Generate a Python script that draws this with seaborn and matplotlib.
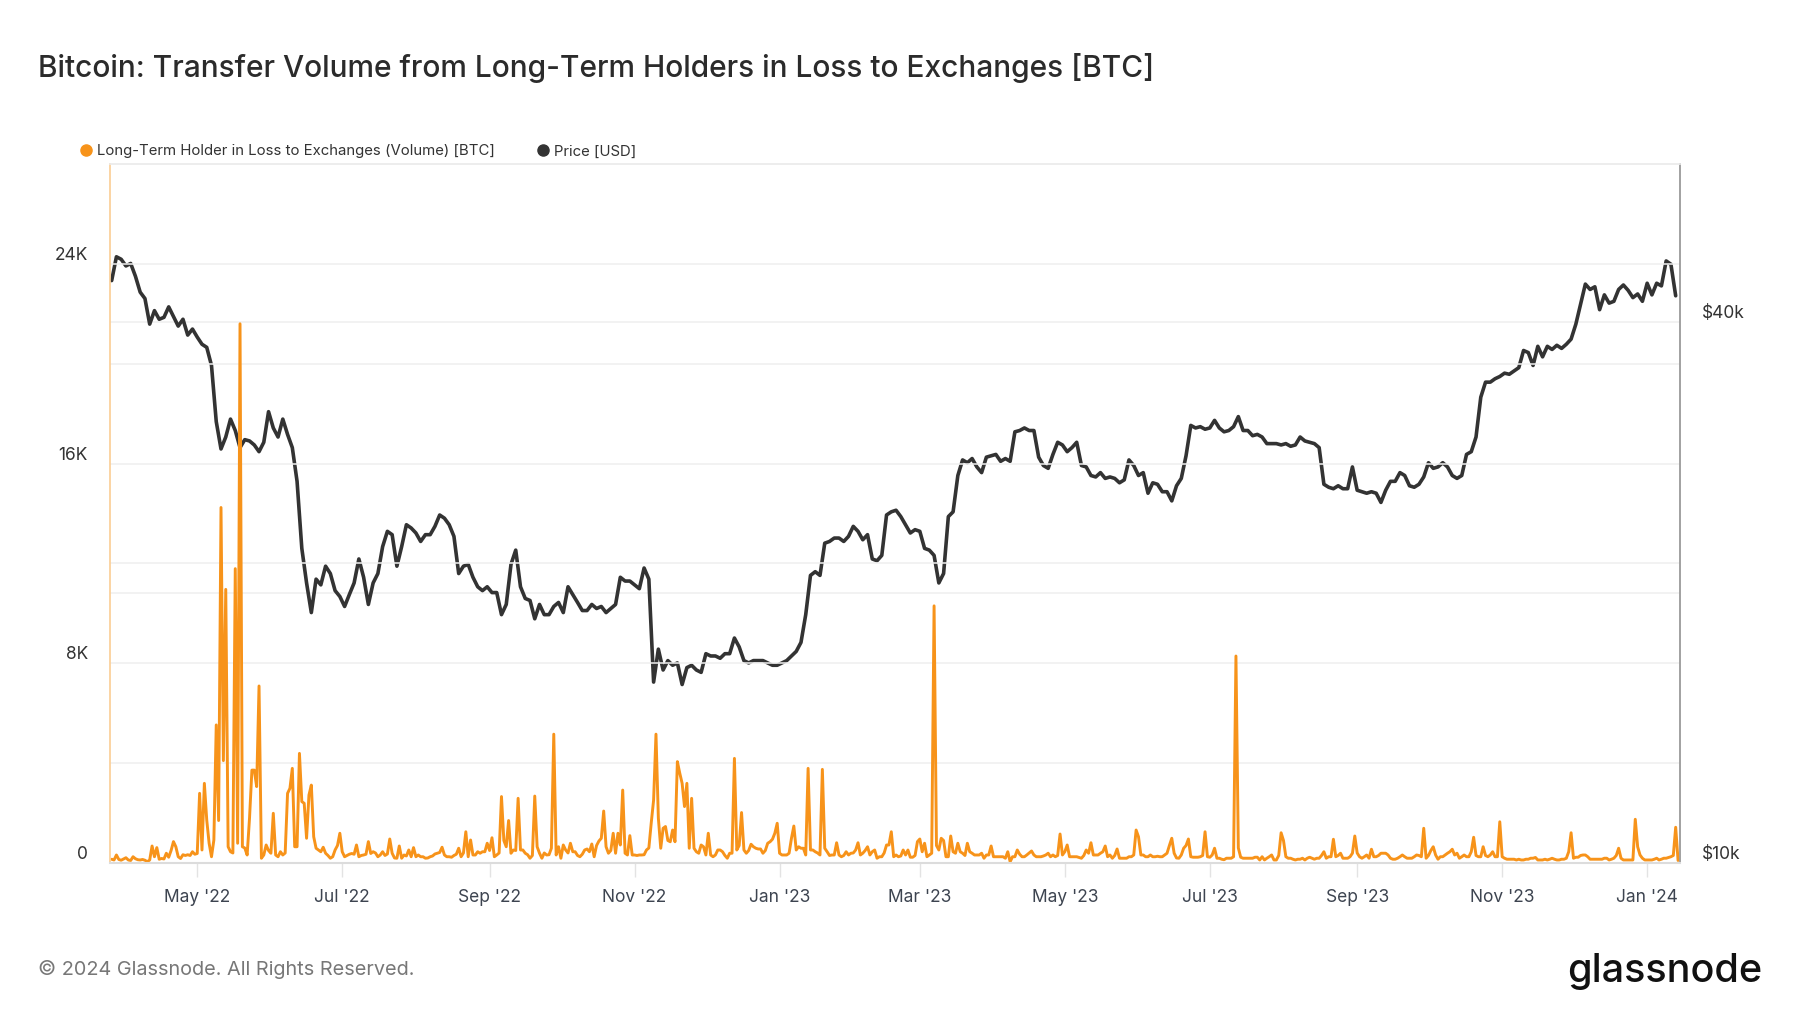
import numpy as np
import pandas as pd
import matplotlib
matplotlib.use("Agg")
import matplotlib.pyplot as plt
import matplotlib.dates as mdates
import matplotlib.ticker as mticker
from matplotlib.lines import Line2D
import seaborn as sns

sns.set_theme(style="white")
plt.rcParams['font.family'] = ['Inter', 'DejaVu Sans']

# daily transfer volume, LTH in loss -> exchanges [BTC], starting 2022-03-26
lth_loss_volume = [
    150, 120, 320, 140, 110, 160, 210, 120, 100, 250,
    170, 130, 120, 140, 110, 50, 120, 680, 250, 615,
    150, 180, 160, 390, 230, 500, 855, 650, 250, 180,
    330, 300, 330, 300, 450, 350, 380, 2790, 520, 3190,
    1720, 790, 250, 920, 5530, 1700, 14240, 4100, 10960, 650,
    450, 400, 11790, 790, 21600, 650, 600, 320, 1800, 3720,
    3720, 3060, 7090, 190, 320, 720, 500, 390, 1990, 320,
    250, 450, 320, 400, 2790, 2990, 3790, 650, 650, 4390,
    2460, 2390, 990, 2720, 3120, 1050, 590, 520, 450, 630,
    390, 300, 190, 250, 520, 700, 1190, 450, 250, 300,
    350, 380, 350, 720, 250, 300, 320, 350, 855, 380,
    450, 400, 250, 320, 450, 300, 360, 960, 390, 200,
    190, 680, 190, 320, 280, 520, 250, 615, 250, 320,
    250, 250, 190, 200, 250, 280, 360, 390, 420, 630,
    320, 250, 250, 230, 300, 350, 590, 250, 400, 1250,
    250, 920, 320, 320, 450, 390, 450, 450, 790, 500,
    1010, 250, 320, 400, 2660, 900, 650, 1700, 390, 520,
    500, 2590, 520, 520, 390, 330, 190, 300, 2680, 650,
    390, 190, 400, 320, 330, 590, 5160, 320, 650, 190,
    720, 520, 400, 790, 450, 450, 300, 250, 350, 520,
    560, 450, 760, 250, 700, 880, 990, 2080, 650, 390,
    500, 1190, 390, 1190, 720, 2920, 390, 320, 1095, 320,
    320, 300, 320, 320, 330, 520, 600, 1600, 2520, 5160,
    1800, 590, 1390, 1460, 900, 850, 1320, 850, 4060, 3600,
    3190, 2260, 3190, 590, 2590, 590, 450, 390, 720, 650,
    320, 1190, 320, 250, 320, 520, 520, 450, 300, 190,
    390, 390, 4190, 520, 700, 2020, 520, 390, 500, 750,
    650, 590, 560, 560, 390, 500, 790, 850, 950, 1190,
    1590, 390, 320, 320, 320, 390, 990, 1480, 520, 650,
    590, 590, 320, 3790, 520, 520, 450, 400, 320, 3750,
    590, 450, 300, 320, 320, 810, 320, 250, 300, 450,
    320, 390, 400, 520, 810, 320, 390, 500, 650, 320,
    450, 520, 190, 250, 250, 400, 720, 720, 1250, 250,
    320, 250, 280, 520, 320, 520, 230, 230, 300, 855,
    960, 450, 790, 250, 320, 390, 10300, 700, 520, 990,
    900, 250, 250, 1080, 450, 390, 790, 450, 390, 300,
    790, 450, 390, 320, 320, 320, 390, 190, 320, 320,
    680, 250, 250, 250, 250, 250, 190, 450, 50, 250,
    250, 520, 350, 250, 250, 320, 400, 480, 320, 250,
    250, 250, 280, 320, 390, 250, 320, 250, 300, 1160,
    320, 450, 720, 250, 250, 250, 250, 220, 190, 300,
    520, 390, 810, 320, 320, 320, 390, 450, 680, 250,
    320, 190, 300, 560, 190, 190, 190, 190, 250, 250,
    320, 1320, 1050, 320, 320, 250, 250, 320, 250, 250,
    270, 250, 250, 320, 390, 700, 990, 390, 200, 190,
    320, 590, 700, 960, 250, 230, 230, 230, 250, 300,
    1250, 250, 230, 320, 590, 190, 190, 150, 130, 190,
    190, 190, 250, 8290, 600, 230, 190, 190, 190, 190,
    190, 230, 230, 120, 250, 120, 190, 250, 320, 120,
    120, 300, 1210, 900, 250, 190, 190, 150, 120, 150,
    150, 190, 120, 190, 230, 190, 150, 190, 190, 300,
    450, 190, 250, 250, 950, 250, 300, 390, 190, 190,
    190, 250, 390, 1080, 400, 250, 190, 250, 320, 190,
    550, 250, 250, 300, 390, 390, 390, 320, 190, 150,
    150, 190, 250, 320, 250, 190, 190, 190, 250, 320,
    300, 250, 1390, 190, 300, 500, 650, 320, 150, 250,
    250, 320, 390, 450, 550, 320, 390, 190, 250, 320,
    250, 250, 450, 1030, 300, 250, 250, 650, 300, 250,
    320, 450, 250, 250, 1650, 250, 190, 150, 150, 150,
    150, 120, 150, 120, 120, 150, 150, 190, 190, 220,
    120, 120, 120, 150, 120, 150, 190, 150, 120, 120,
    150, 150, 190, 450, 1210, 190, 230, 230, 300, 320,
    320, 250, 150, 150, 150, 150, 150, 150, 190, 190,
    120, 150, 190, 300, 590, 190, 120, 120, 120, 120,
    120, 1750, 650, 320, 190, 120, 120, 120, 120, 150,
    190, 120, 150, 190, 190, 220, 250, 300, 1430, 100,
]

# BTC price in $k, every second day starting 2022-03-26
price_k = [
    44.5, 47.3, 47.0, 46.2, 46.5, 45.0, 43.2, 42.5, 39.8, 41.2,
    40.3, 40.5, 41.6, 40.6, 39.6, 40.3, 38.7, 39.3, 38.5, 37.8,
    37.5, 35.8, 31.0, 28.9, 29.8, 31.2, 30.3, 29.0, 29.6, 29.5,
    29.2, 28.7, 29.4, 31.8, 30.5, 29.8, 31.2, 30.0, 29.0, 26.6,
    22.4, 20.5, 19.0, 20.7, 20.4, 21.4, 21.0, 20.1, 19.8, 19.3,
    19.9, 20.5, 21.8, 20.8, 19.4, 20.5, 21.0, 22.5, 23.4, 23.2,
    21.4, 22.5, 23.8, 23.6, 23.3, 22.8, 23.2, 23.2, 23.7, 24.4,
    24.2, 23.8, 23.1, 21.0, 21.4, 21.5, 20.8, 20.3, 20.1, 20.3,
    20.0, 20.0, 18.9, 19.4, 21.5, 22.3, 20.3, 19.7, 19.6, 18.7,
    19.4, 18.9, 18.9, 19.3, 19.5, 19.0, 20.3, 19.9, 19.5, 19.1,
    19.1, 19.4, 19.2, 19.3, 19.0, 19.2, 19.4, 20.8, 20.6, 20.6,
    20.4, 20.2, 21.3, 20.7, 15.9, 17.3, 16.4, 16.8, 16.6, 16.7,
    15.8, 16.5, 16.6, 16.4, 16.3, 17.1, 17.0, 17.0, 16.9, 17.1,
    17.1, 17.8, 17.4, 16.8, 16.7, 16.8, 16.8, 16.8, 16.7, 16.6,
    16.6, 16.7, 16.8, 17.0, 17.2, 17.6, 18.9, 20.9, 21.1, 20.9,
    22.7, 22.8, 23.0, 23.0, 22.8, 23.1, 23.7, 23.4, 22.9, 23.2,
    21.8, 21.7, 22.0, 24.4, 24.6, 24.7, 24.3, 23.8, 23.3, 23.5,
    23.4, 22.4, 22.3, 22.0, 20.5, 21.0, 24.3, 24.6, 27.0, 28.1,
    27.9, 28.2, 27.6, 27.2, 28.3, 28.4, 28.5, 28.0, 28.2, 28.0,
    30.2, 30.3, 30.5, 30.3, 30.3, 28.3, 27.7, 27.5, 28.5, 29.4,
    29.2, 28.7, 29.0, 29.4, 27.7, 27.6, 27.0, 26.9, 27.2, 26.8,
    26.9, 26.8, 26.5, 26.7, 28.1, 27.7, 27.0, 27.2, 25.8, 26.5,
    26.4, 25.9, 25.9, 25.3, 26.3, 26.8, 28.4, 30.7, 30.5, 30.6,
    30.4, 30.5, 31.1, 30.5, 30.2, 30.3, 30.6, 31.4, 30.3, 30.3,
    29.9, 30.0, 29.8, 29.3, 29.3, 29.3, 29.2, 29.3, 29.1, 29.2,
    29.8, 29.5, 29.4, 29.3, 29.0, 26.4, 26.2, 26.1, 26.3, 26.1,
    26.1, 27.6, 26.0, 25.9, 25.8, 25.9, 25.8, 25.2, 26.0, 26.6,
    26.6, 27.2, 27.0, 26.3, 26.2, 26.4, 26.9, 27.9, 27.5, 27.6,
    27.9, 27.6, 27.0, 26.8, 27.0, 28.5, 28.7, 29.8, 33.0, 34.3,
    34.3, 34.6, 34.8, 35.1, 35.0, 35.3, 35.6, 37.2, 37.0, 35.8,
    37.6, 36.6, 37.6, 37.3, 37.7, 37.4, 37.8, 38.3, 39.8, 41.9,
    44.1, 43.5, 43.8, 41.3, 42.9, 42.0, 42.2, 43.5, 44.0, 43.4,
    42.6, 43.0, 42.2, 44.2, 42.9, 44.2, 43.9, 46.8, 46.4, 42.8,
]

start_date = "2022-03-26"
x_left = "2022-03-25 07:00"
x_right = "2024-01-14 19:00"
tick_months = [1, 3, 5, 7, 9, 11]
vol_ticks = [0, 8000, 16000, 24000]
vol_labels = ["0", "8K", "16K", "24K"]
vol_minor = [4000, 12000, 20000]
price_ticks = [10000, 40000]
price_labels = ["$10k", "$40k"]
price_minor = [20000]

title = "Bitcoin: Transfer Volume from Long-Term Holders in Loss to Exchanges [BTC]"
legend_names = ["Long-Term Holder in Loss to Exchanges (Volume) [BTC]", "Price [USD]"]

ORANGE = "#F7931A"
DARK = "#333333"
GRID = "#efefef"

vol_df = pd.DataFrame({
    "date": pd.date_range(start_date, periods=len(lth_loss_volume), freq="D"),
    "volume": lth_loss_volume,
})
price_df = pd.DataFrame({
    "date": pd.date_range(start_date, periods=len(price_k), freq="2D"),
    "price": np.array(price_k) * 1000,
})

fig = plt.figure(figsize=(18, 10.13), dpi=100)
ax = fig.add_axes([0.0611, 0.1481, 0.8722, 0.69])
ax2 = ax.twinx()

sns.lineplot(data=price_df, x="date", y="price", ax=ax2, color=DARK, lw=2.6)
sns.lineplot(data=vol_df, x="date", y="volume", ax=ax, color=ORANGE, lw=2.1)
ax.set_zorder(ax2.get_zorder() + 1)
ax.patch.set_visible(False)

# left axis: volume
ax.set_ylim(0, 28000)
ax.set_yticks(vol_ticks, labels=vol_labels)
ax.yaxis.set_minor_locator(mticker.FixedLocator(vol_minor))
ax.grid(which="both", axis="y", color=GRID, lw=1.1)
ax.grid(which="both", axis="x", visible=False)
ax.tick_params(axis="y", which="both", length=0, labelsize=12.5, labelcolor="#333333", pad=16)
plt.setp(ax.get_yticklabels(), va="bottom")

# right axis: price, log scale
ax2.set_yscale("log")
ax2.set_ylim(10000, 60000)
ax2.set_yticks(price_ticks, labels=price_labels)
ax2.yaxis.set_minor_locator(mticker.FixedLocator(price_minor))
ax2.yaxis.set_minor_formatter(mticker.NullFormatter())
ax2.grid(which="both", axis="y", color=GRID, lw=1.1)
ax2.tick_params(axis="y", which="both", length=0, labelsize=12.5, labelcolor="#333333", pad=16)
plt.setp(ax2.get_yticklabels(), va="bottom")

ax.set_xlim(pd.Timestamp(x_left), pd.Timestamp(x_right))
ax.xaxis.set_major_locator(mdates.MonthLocator(bymonth=tick_months))
ax.xaxis.set_major_formatter(mdates.DateFormatter("%b '%y"))
ax.tick_params(axis="x", length=10, width=1, color="#e3e3e3", pad=9,
               labelsize=12.5, labelcolor="#3d4450", bottom=True)

for a in (ax, ax2):
    a.set_xlabel("")
    a.set_ylabel("")
for s in ax2.spines.values():
    s.set_visible(False)
ax.spines["top"].set_color("#ebebeb")
ax.spines["bottom"].set_color("#dcdcdc")
ax.spines["bottom"].set_linewidth(1.5)
ax.spines["left"].set_color("#fbcf98")
ax.spines["right"].set_color("#9a9a9a")
ax.spines["right"].set_linewidth(1.3)

handles = [Line2D([], [], marker="o", ls="", color=ORANGE, markersize=8),
           Line2D([], [], marker="o", ls="", color=DARK, markersize=8)]
fig.legend(handles, legend_names, loc="center left", bbox_to_anchor=(0.0405, 1 - 151.5 / 1013),
           frameon=False, ncol=2, fontsize=10.75, handlelength=0.7, handletextpad=0.4,
           columnspacing=2.9, borderpad=0, labelcolor="#333333")

fig.text(38 / 1800, 1 - 67.5 / 1013, title, fontsize=21.5, weight="medium", color="#2b2b2b",
         ha="left", va="center")
fig.text(38 / 1800, 1 - 969.5 / 1013, "© 2024 Glassnode. All Rights Reserved.", fontsize=14.3,
         color="#777777", ha="left", va="center")
fig.text(1762 / 1800, 1 - 971 / 1013, "glassnode", fontsize=28.5, weight="medium", color="#111111",
         ha="right", va="center")

fig.savefig("out.png", dpi=100, facecolor="white")
